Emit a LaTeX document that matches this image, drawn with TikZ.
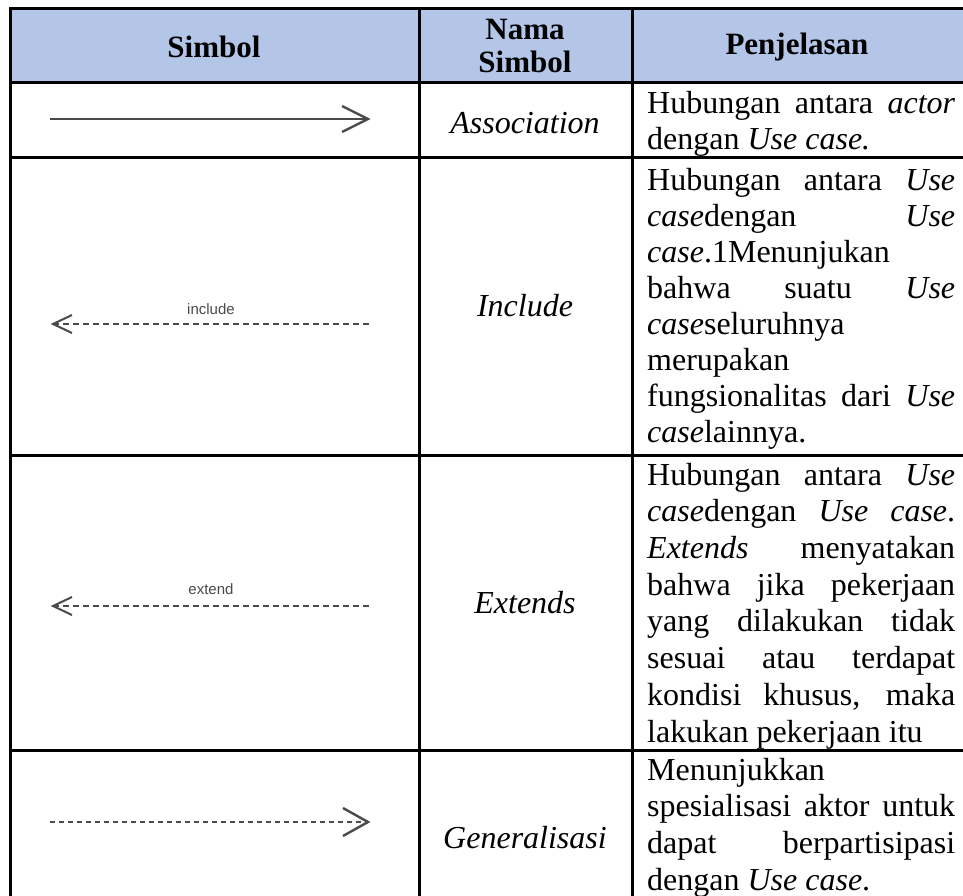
\documentclass[tikz,border=0pt]{standalone}
\usepackage{fontspec}
\setmainfont{Liberation Serif}
\newfontfamily\labelfont{Liberation Sans}
\usetikzlibrary{calc}
\definecolor{headblue}{HTML}{B4C6E7}
\definecolor{umlgray}{HTML}{4A4A4A}
% one justified line of the description column
\newcommand{\jline}[1]{\makebox[308pt][s]{#1}}

\begin{document}
\begin{tikzpicture}[x=1pt,y=-1pt,
  grid/.style={line width=3pt,black,line cap=rect},
  desc/.style={anchor=base west,inner sep=0pt,font=\fontsize{32}{38}\selectfont},
  symname/.style={inner sep=0pt,font=\fontsize{32}{38}\selectfont\itshape},
  head/.style={inner sep=0pt,align=center,font=\fontsize{31}{33}\selectfont\bfseries},
  uml/.style={umlgray,line width=2.4pt},
  umldash/.style={umlgray,line width=2pt,dash pattern=on 6pt off 4pt},
  umldot/.style={umlgray,line width=2.4pt,dash pattern=on 5pt off 4pt},
  tag/.style={inner sep=0pt,font=\labelfont\fontsize{15}{18}\selectfont,text=umlgray}]
\useasboundingbox (0,0) rectangle (963,896);

% header band and table rules
\fill[headblue] (10,9) rectangle (963,83);
\draw[grid] (963,9) -- (10,9) -- (10,896);
\foreach \y in {83,158,455,750} \draw[grid] (10,\y) -- (963,\y);
\draw[grid] (419,9) -- (419,896);
\draw[grid] (632,9) -- (632,896);

% header
\node[head] (h1) at (214,47) {Simbol};
\node[head] (h2) at (525,46) {Nama\\Simbol};
\node[head] (h3) at (797,47) {Penjelasan};

% symbol names
\node[symname] (n1) at (525,123) {Association};
\node[symname] (n2) at (525,306) {Include};
\node[symname] (n3) at (525,603) {Extends};
\node[symname] (n4) at (525,838) {Generalisasi};

% association
\coordinate (a1) at (50,119);
\coordinate (a2) at (368,119);
\draw[uml] (a1) -- (a2);
\draw[uml] ($(a2)+(-26,-13)$) -- (a2) -- ($(a2)+(-26,13)$);

% include
\coordinate (i1) at (53,324);
\coordinate (i2) at (370,324);
\draw[umldash] (i1) -- (i2);
\draw[uml,line width=2pt] ($(i1)+(19,-9)$) -- (i1) -- ($(i1)+(19,9)$);
\node[tag] (it) at (211,309) {include};

% extend
\coordinate (e1) at (53,606);
\coordinate (e2) at (370,606);
\draw[umldash] (e1) -- (e2);
\draw[uml,line width=2pt] ($(e1)+(19,-9)$) -- (e1) -- ($(e1)+(19,9)$);
\node[tag] (et) at (211,589) {extend};

% generalisation
\coordinate (g1) at (50,822);
\coordinate (g2) at (368,822);
\draw[umldot] (g1) -- (g2);
\draw[uml] ($(g2)+(-25,-14)$) -- (g2) -- ($(g2)+(-25,14)$);

% descriptions
\node[desc] (d1a) at (647,114) {\jline{Hubungan antara \textit{actor}}};
\node[desc] (d1b) at (647,150) {dengan \textit{Use case.}};

\node[desc] (d2a) at (647,190) {\jline{Hubungan antara \textit{Use}}};
\node[desc] (d2b) at (647,226) {\jline{\textit{case}dengan \textit{Use}}};
\node[desc] (d2c) at (647,262) {\textit{case}.1Menunjukan};
\node[desc] (d2d) at (647,298) {\jline{bahwa suatu \textit{Use}}};
\node[desc] (d2e) at (647,334) {\textit{case}seluruhnya};
\node[desc] (d2f) at (647,370) {merupakan};
\node[desc] (d2g) at (647,406) {\jline{fungsionalitas dari \textit{Use}}};
\node[desc] (d2h) at (647,442) {\textit{case}lainnya.};

\node[desc] (d3a) at (647,485) {\jline{Hubungan antara \textit{Use}}};
\node[desc] (d3b) at (647,521.7) {\jline{\textit{case}dengan \textit{Use case}.}};
\node[desc] (d3c) at (647,558.4) {\jline{\textit{Extends} menyatakan}};
\node[desc] (d3d) at (647,595.1) {\jline{bahwa jika pekerjaan}};
\node[desc] (d3e) at (647,631.8) {\jline{yang dilakukan tidak}};
\node[desc] (d3f) at (647,668.5) {\jline{sesuai atau terdapat}};
\node[desc] (d3g) at (647,705.2) {\jline{kondisi khusus, maka}};
\node[desc] (d3h) at (647,742) {lakukan pekerjaan itu};

\node[desc] (d4a) at (647,780) {Menunjukkan};
\node[desc] (d4b) at (647,816.7) {\jline{spesialisasi aktor untuk}};
\node[desc] (d4c) at (647,853.4) {\jline{dapat berpartisipasi}};
\node[desc] (d4d) at (647,890) {dengan \textit{Use case}.};
\end{tikzpicture}
\end{document}
